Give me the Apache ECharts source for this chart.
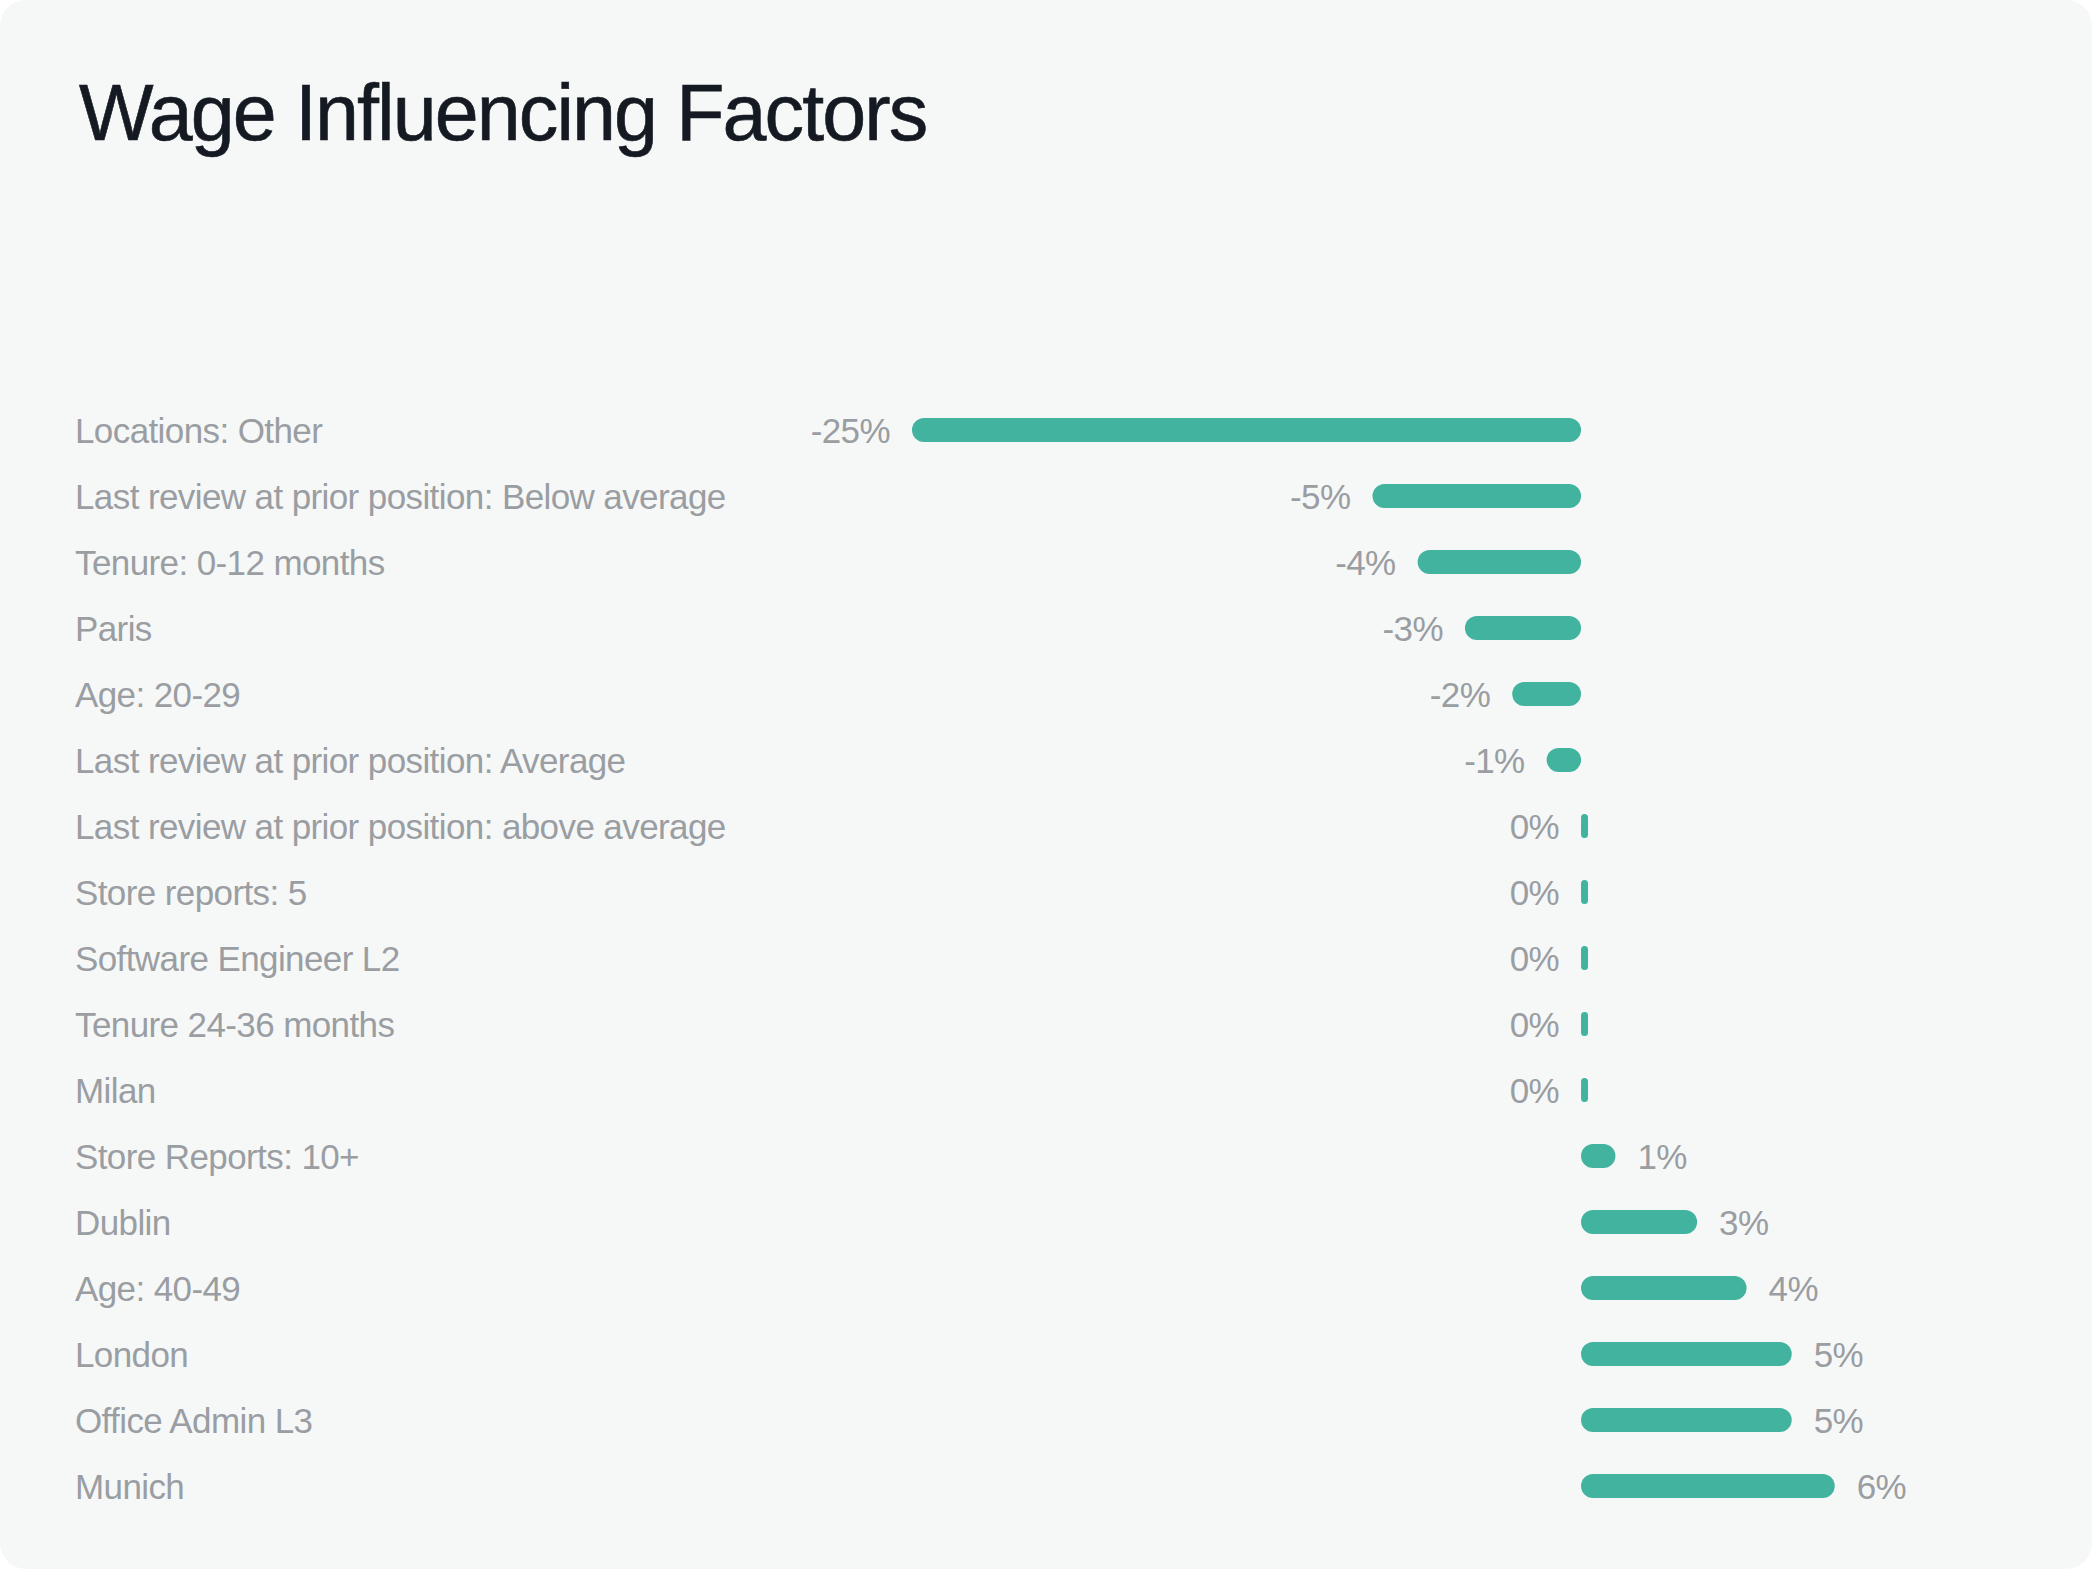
<!DOCTYPE html>
<html><head><meta charset="utf-8">
<script src="https://cdn.jsdelivr.net/npm/echarts@6/dist/echarts.min.js"></script>
<style>
html,body{margin:0;padding:0;background:#ffffff;}
#card{position:absolute;left:0;top:0;width:2092px;height:1569px;background:#f6f8f8;border-radius:26px;overflow:hidden;}
#chart{width:2092px;height:1569px;}
#chart text{letter-spacing:-0.6px;}
#chart text[style*="79px"]{letter-spacing:-1.9px;}
</style></head>
<body><div id="card"><div id="chart"></div></div>
<script>
const titleText = 'Wage Influencing Factors';
const categories = [
  'Locations: Other',
  'Last review at prior position: Below average',
  'Tenure: 0-12 months',
  'Paris',
  'Age: 20-29',
  'Last review at prior position: Average',
  'Last review at prior position: above average',
  'Store reports: 5',
  'Software Engineer L2',
  'Tenure 24-36 months',
  'Milan',
  'Store Reports: 10+',
  'Dublin',
  'Age: 40-49',
  'London',
  'Office Admin L3',
  'Munich'
];
const values = [-25, -4.85, -3.8, -2.7, -1.6, -0.8, 0, 0, 0, 0, 0, 0.8, 2.7, 3.85, 4.9, 4.9, 5.9];

const chart = echarts.init(document.getElementById('chart'), null, {renderer: 'svg'});
const FONT = '"Liberation Sans", Arial, sans-serif';
chart.setOption({
  animation: false,
  backgroundColor: 'transparent',
  title: {
    text: titleText,
    left: 74,
    top: 68,
    textStyle: {fontFamily: FONT, fontSize: 79, fontWeight: 'normal', color: '#151922', textBorderColor: '#151922', textBorderWidth: 0.6}
  },
  grid: {left: 912, right: 81, top: 397, bottom: 50, containLabel: false},
  xAxis: {
    type: 'value', min: -15.56, max: 10,
    show: false
  },
  yAxis: {
    type: 'category', inverse: true, data: categories,
    axisLine: {show: false}, axisTick: {show: false}, splitLine: {show: false},
    axisLabel: {align: 'left', margin: 837, fontFamily: FONT, fontSize: 35, color: '#9a9ea2'}
  },
  series: [{
    type: 'bar',
    data: values.map(v => ({
      value: v,
      label: {position: v > 0 ? 'right' : 'left'}
    })),
    barWidth: 24,
    barMinHeight: 7,
    itemStyle: {color: '#41b39f', borderRadius: 12},
    label: {
      show: true, distance: 22,
      fontFamily: FONT, fontSize: 35, color: '#9a9da1',
      formatter: p => Math.round(p.value) + '%'
    }
  }]
});
</script>
</body></html>
